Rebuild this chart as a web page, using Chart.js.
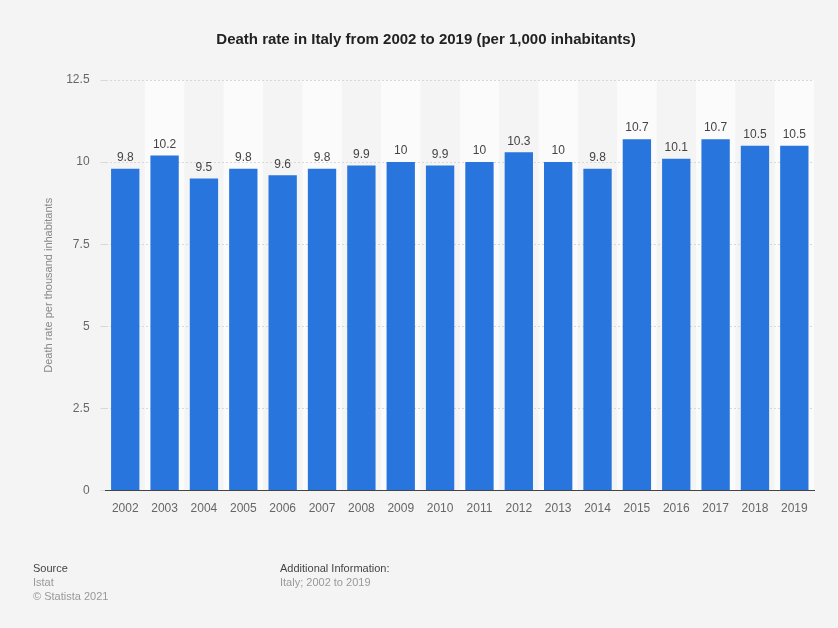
<html>
  <head>
    <script src="https://cdn.jsdelivr.net/npm/chart.js@4/dist/chart.umd.min.js"></script>
    <style>
      body { margin: 0; background: #f4f4f4; font-family: "Liberation Sans", Arial, sans-serif; }
      #wrap { position: relative; width: 838px; height: 628px; }
      .foot { position: absolute; font-size: 11px; line-height: 14px; color: #999; }
      .foot b { font-weight: normal; color: #444; }
    </style>
  </head>
  <body>
    <div id="wrap">
      <canvas id="deathChart" width="838" height="628"></canvas>
      <div class="foot" style="left:33px; top:561px;"><b>Source</b><br>Istat<br>© Statista 2021</div>
      <div class="foot" style="left:280px; top:561px;"><b>Additional Information:</b><br>Italy; 2002 to 2019</div>
    </div>
    <script>
      let years = ["2002", "2003", "2004", "2005", "2006", "2007", "2008", "2009", "2010",
                   "2011", "2012", "2013", "2014", "2015", "2016", "2017", "2018", "2019"];
      let deathRate = [9.8, 10.2, 9.5, 9.8, 9.6, 9.8, 9.9, 10, 9.9, 10, 10.3, 10, 9.8, 10.7, 10.1, 10.7, 10.5, 10.5];
      let yTicks = [0, 2.5, 5, 7.5, 10, 12.5];

      // lighter band behind every second column
      const columnBands = {
        id: 'columnBands',
        beforeDraw(chart) {
          const ctx = chart.ctx, x = chart.scales.x, area = chart.chartArea;
          const w = x.getPixelForValue(1) - x.getPixelForValue(0);
          ctx.save();
          ctx.fillStyle = '#fbfbfb';
          for (let i = 1; i < years.length; i += 2) {
            const c = x.getPixelForValue(i);
            ctx.fillRect(c - w / 2, area.top, w, area.bottom - area.top);
          }
          ctx.restore();
        }
      };

      const barValues = {
        id: 'barValues',
        afterDatasetsDraw(chart) {
          const ctx = chart.ctx;
          ctx.save();
          ctx.font = '12px "Liberation Sans", Arial, sans-serif';
          ctx.fillStyle = '#444';
          ctx.textAlign = 'center';
          ctx.textBaseline = 'bottom';
          chart.getDatasetMeta(0).data.forEach((bar, i) => {
            ctx.fillText(String(deathRate[i]), bar.x, bar.y - 5);
          });
          ctx.restore();
        }
      };

      window.onload = function() {
        new Chart(document.getElementById('deathChart'), {
          type: 'bar',
          data: {
            labels: years,
            datasets: [{
              data: deathRate,
              backgroundColor: '#2876dd',
              barPercentage: 0.72,
              categoryPercentage: 1
            }]
          },
          options: {
            responsive: false,
            animation: false,
            layout: { padding: { left: 38, right: 24, top: 0, bottom: 101 } },
            plugins: {
              legend: { display: false },
              tooltip: { enabled: false },
              title: {
                display: true,
                text: 'Death rate in Italy from 2002 to 2019 (per 1,000 inhabitants)',
                color: '#222',
                font: { family: '"Liberation Sans", Arial, sans-serif', size: 15, weight: 'bold' },
                padding: { top: 31, bottom: 31 }
              }
            },
            scales: {
              x: {
                grid: { display: false, drawTicks: false },
                border: { color: '#444', width: 1 },
                ticks: { color: '#666', font: { size: 12 }, padding: 11, maxRotation: 0 }
              },
              y: {
                min: 0,
                max: 12.5,
                afterBuildTicks(axis) { axis.ticks = yTicks.map(v => ({ value: v })); },
                grid: { color: '#d8d8d8', tickLength: 5, tickColor: '#d8d8d8' },
                border: { display: false, dash: [2, 2] },
                ticks: { color: '#666', font: { size: 12 }, padding: 11 },
                title: {
                  display: true,
                  text: 'Death rate per thousand inhabitants',
                  color: '#888',
                  font: { size: 11 },
                  padding: { bottom: 0 }
                }
              }
            }
          },
          plugins: [columnBands, barValues]
        });
      };
    </script>
  </body>
</html>
